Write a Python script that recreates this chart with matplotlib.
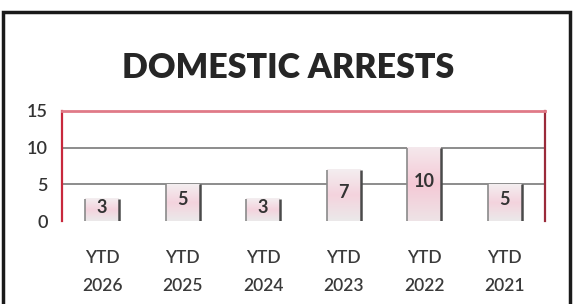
import numpy as np
import matplotlib
matplotlib.use("Agg")
import matplotlib.pyplot as plt
from matplotlib.patches import Rectangle
from matplotlib.colors import LinearSegmentedColormap

plt.rcParams['font.family'] = ['Lato', 'DejaVu Sans']

categories = ["YTD\n2026", "YTD\n2025", "YTD\n2024", "YTD\n2023", "YTD\n2022", "YTD\n2021"]
values = [3, 5, 3, 7, 10, 5]
yticks = [0, 5, 10, 15]

fig = plt.figure(figsize=(5.73, 3.04), dpi=100)
ax = fig.add_axes([0.108, 0.273, 0.843, 0.362])

x = np.arange(len(categories))
width = 0.42

# soft pink gradient used on the bars (top -> bottom)
grad = LinearSegmentedColormap.from_list("bar", ["#ebe9ea", "#f4d3dd", "#f3eef0"])
grad_hot = LinearSegmentedColormap.from_list("bar10", ["#eee3e6", "#f5c9d6", "#f4e8ec"])
g = np.linspace(0, 1, 64).reshape(-1, 1)

for xi, v in zip(x, values):
    cmap = grad_hot if v >= 10 else grad
    ax.imshow(g, cmap=cmap, aspect='auto', origin='lower',
              extent=(xi - width / 2, xi + width / 2, 0, v), zorder=2)
    ax.vlines(xi - width / 2, 0, v, color='#8a8a8a', lw=1.2, zorder=3)
    ax.vlines(xi + width / 2, 0, v, color='#4a4a4a', lw=1.8, zorder=3)
    ax.text(xi, v / 2 + 0.4, str(v), ha='center', va='center',
            fontsize=13, fontweight='bold', color='#333333', zorder=4)

for yv in yticks[1:-1]:
    ax.axhline(yv, color='#8c8c8c', lw=1.4, zorder=1)

ax.set_xlim(-0.5, len(categories) - 0.5)
ax.set_ylim(0, 15)
ax.set_yticks(yticks)
ax.set_xticks(x)
ax.set_xticklabels(categories, linespacing=1.9)
ax.tick_params(axis='y', length=0, pad=10, labelsize=13, labelcolor='#333333')
ax.tick_params(axis='x', length=0, pad=21, labelsize=12.5, labelcolor='#3a3a3a')
for lbl in ax.get_xticklabels() + ax.get_yticklabels():
    lbl.set_fontweight('semibold')

ax.spines['bottom'].set_visible(False)
ax.spines['left'].set_color('#c8283c')
ax.spines['left'].set_linewidth(1.6)
ax.spines['right'].set_color('#9a2a3a')
ax.spines['right'].set_linewidth(1.6)
ax.spines['top'].set_color('#e07a88')
ax.spines['top'].set_linewidth(2.0)

fig.text(0.502, 0.776, "DOMESTIC ARRESTS", ha='center', va='center',
         fontsize=24.5, fontweight='heavy', color='#262626')

fig.patches.append(Rectangle((3 / 573, -0.02), 567 / 573, 1.02 - 12 / 304,
                             transform=fig.transFigure, fill=False,
                             edgecolor='#1a1a1a', lw=2.5))

fig.savefig("out.png", dpi=100)
